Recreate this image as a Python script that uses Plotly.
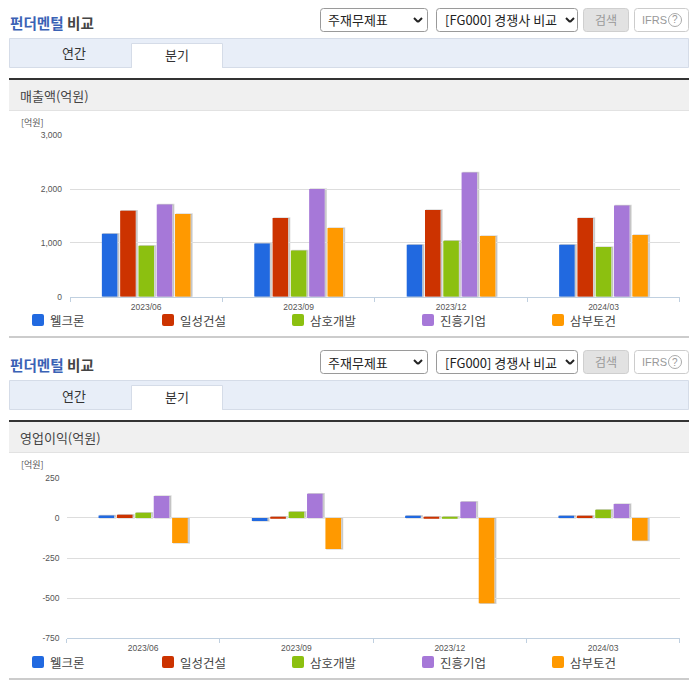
import plotly.graph_objects as go

W, H = 696, 684
periods = ["2023/06", "2023/09", "2023/12", "2024/03"]
companies = ["웰크론", "일성건설", "삼호개발", "진흥기업", "삼부토건"]
colors = ["#2169e0", "#cc3300", "#8cc010", "#a678d8", "#ff9900"]

welcron_sales = [1170, 990, 965, 965]
ilsung_sales = [1600, 1466, 1615, 1466]
samho_sales = [950, 860, 1040, 925]
jinheung_sales = [1715, 2006, 2310, 1696]
sambu_sales = [1540, 1280, 1130, 1150]

welcron_op = [15, -19, 14, 14]
ilsung_op = [20, 8, 8, 14]
samho_op = [33, 39, 8, 51]
jinheung_op = [136, 150, 100, 87]
sambu_op = [-156, -194, -531, -140]

sales = [welcron_sales, ilsung_sales, samho_sales, jinheung_sales, sambu_sales]
op = [welcron_op, ilsung_op, samho_op, jinheung_op, sambu_op]

sales_ticks = [0, 1000, 2000, 3000]
sales_labels = ["0", "1,000", "2,000", "3,000"]
op_ticks = [-750, -500, -250, 0, 250]
op_labels = ["-750", "-500", "-250", "0", "250"]

KR = "Noto Sans CJK KR"
LAT = "Liberation Sans"
SHADOW = "rgba(0,0,0,0.14)"

def px(x): return x / W
def py(y): return 1 - y / H

fig = go.Figure()
shapes, notes = [], []

def rect(x0, y0, x1, y1, fill=None, line=None, lw=1):
    shapes.append(dict(type="rect", xref="paper", yref="paper", x0=px(x0), x1=px(x1),
                       y0=py(y1), y1=py(y0), fillcolor=fill or "rgba(0,0,0,0)",
                       line=dict(color=line or "rgba(0,0,0,0)", width=lw if line else 0), layer="below"))

def rrect(x0, y0, x1, y1, r, fill=None, line=None, lw=1):
    X0, X1, Y0, Y1 = px(x0), px(x1), py(y0), py(y1)
    rx, ry = r / W, r / H
    path = (f"M{X0+rx},{Y0} L{X1-rx},{Y0} Q{X1},{Y0} {X1},{Y0-ry} L{X1},{Y1+ry} Q{X1},{Y1} {X1-rx},{Y1} "
            f"L{X0+rx},{Y1} Q{X0},{Y1} {X0},{Y1+ry} L{X0},{Y0-ry} Q{X0},{Y0} {X0+rx},{Y0} Z")
    shapes.append(dict(type="path", xref="paper", yref="paper", path=path,
                       fillcolor=fill or "rgba(0,0,0,0)",
                       line=dict(color=line or "rgba(0,0,0,0)", width=lw if line else 0), layer="below"))

def text(x, y, s, size=12, color="#444444", anchor="left", family=KR):
    notes.append(dict(xref="paper", yref="paper", x=px(x), y=py(y), text=s, showarrow=False,
                      xanchor=anchor, yanchor="middle", borderpad=0,
                      font=dict(size=size, color=color, family=family)))

def chevron(cx, cy):
    for dx0, dx1, dy0, dy1 in [(-4, 0, -2, 2), (0, 4, 2, -2)]:
        shapes.append(dict(type="line", xref="paper", yref="paper", x0=px(cx + dx0), x1=px(cx + dx1),
                           y0=py(cy + dy0), y1=py(cy + dy1), line=dict(color="#222222", width=2)))

def panel(off, title_metric, sep_y, legend_y, unit_y):
    text(9, 23 + off, "<b><span style='color:#3a62b5'>펀더멘털</span> 비교</b>", 14.6, "#444444")
    rrect(320.5, 8.5 + off, 427.5, 31.5 + off, 3, "#ffffff", "#9a9a9a")
    text(327, 20 + off, "주재무제표", 13, "#222222")
    chevron(418, 20 + off)
    rrect(436.5, 8.5 + off, 577.5, 31.5 + off, 3, "#ffffff", "#9a9a9a")
    text(444, 20 + off, "[FG000] 경쟁사 비교", 13, "#222222")
    chevron(570, 20 + off)
    rrect(583.5, 8.5 + off, 628.5, 31.5 + off, 3, "#e2e2e2", "#cfcfcf")
    text(606, 19 + off, "검색", 12, "#999999", "center")
    rrect(634.5, 8.5 + off, 688.5, 31.5 + off, 3, "#ffffff", "#cccccc")
    text(640.5, 19.5 + off, "IFRS", 11, "#999999", family=LAT)
    shapes.append(dict(type="circle", xref="paper", yref="paper", x0=px(668.5), x1=px(681.5),
                       y0=py(26.5 + off), y1=py(13.5 + off), line=dict(color="#aaaaaa", width=1)))
    text(675, 20 + off, "?", 10, "#999999", "center", LAT)
    rect(9.5, 38.5 + off, 688.5, 67.5 + off, "#e8eef8", "#d5dce8")
    rect(131.5, 43.5 + off, 222.5, 67.5 + off, "#ffffff", "#d5dce8")
    rect(132, 66.5 + off, 222, 68.5 + off, "#ffffff")
    text(74, 53 + off, "연간", 13, "#333333", "center")
    text(177, 54 + off, "분기", 13, "#333333", "center")
    rect(9, 80 + off, 689, 110 + off, "#f0f0f0")
    rect(9, 110 + off, 689, 111 + off, "#e2e2e2")
    rect(9, 78 + off, 689, 80 + off, "#333333")
    text(18.5, 95.5 + off, title_metric, 13, "#444444")
    text(19.5, unit_y, "[억원]", 9, "#555555")
    rect(9, sep_y, 689, sep_y + 2, "#cccccc")
    for i, name in enumerate(companies):
        x = 32 + 130 * i
        rrect(x, legend_y - 6, x + 12, legend_y + 6, 2, colors[i])
        text(x + 17, legend_y, name, 12.5, "#444444")

panel(0, "매출액(억원)", 336, 320, 122.5)
panel(342, "영업이익(억원)", 678, 662, 464.5)

def chart(n, series, x0, x1, ytop, ybot, yrange, ticks, labels, standoff, xstandoff):
    sx, sy = ("x", "y") if n == 0 else ("x3", "y3")
    mx, my = ("x2", "y2") if n == 0 else ("x4", "y4")
    for i, vals in enumerate(series):
        fig.add_bar(x=periods, y=vals, xaxis=sx, yaxis=sy, showlegend=False, hoverinfo="skip",
                    marker=dict(color=SHADOW, line=dict(color=SHADOW, width=1.5)))
    for i, vals in enumerate(series):
        fig.add_bar(x=periods, y=vals, xaxis=mx, yaxis=my, name=companies[i], showlegend=False,
                    marker=dict(color=colors[i], line=dict(width=0)))
    shift = 1.5
    sxk, syk, mxk, myk = "xaxis" + sx[1:], "yaxis" + sy[1:], "xaxis" + mx[1:], "yaxis" + my[1:]
    fig.update_layout({
        sxk: dict(domain=[px(x0 + shift), px(x1 + shift)], anchor=sy, visible=False, type="category",
                  categoryorder="array", categoryarray=periods, automargin=False),
        syk: dict(domain=[py(ybot), py(ytop)], anchor=sx, visible=False, range=yrange, automargin=False),
        mxk: dict(domain=[px(x0), px(x1)], anchor=my, type="category", categoryorder="array",
                  categoryarray=periods, tickson="boundaries", ticks="outside", ticklen=4,
                  tickcolor="#c0d0e0", tickwidth=1, showline=True, linecolor="#c0d0e0", linewidth=1,
                  showgrid=False, zeroline=False, automargin=False, ticklabelstandoff=xstandoff,
                  tickfont=dict(size=8.5, color="#555555", family=LAT)),
        myk: dict(domain=[py(ybot), py(ytop)], anchor=mx, range=yrange, tickmode="array", tickvals=ticks,
                  ticktext=labels, showgrid=True, gridcolor="#dddddd", gridwidth=1, zeroline=False,
                  showline=False, ticks="", ticklabelstandoff=standoff, automargin=False,
                  tickfont=dict(size=8.5, color="#555555", family=LAT)),
    })

chart(0, sales, 70, 679.7, 135.5, 296.7, [0, 3000], sales_ticks, sales_labels, 7, 2)
chart(1, op, 66.5, 679.7, 477.8, 638.3, [-750, 250], op_ticks, op_labels, 6, 1)

fig.update_layout(width=W, height=H, autosize=False, margin=dict(l=0, r=0, t=0, b=0, pad=0),
                  paper_bgcolor="#ffffff", plot_bgcolor="rgba(0,0,0,0)", barmode="group",
                  bargap=0.40, bargroupgap=0.15, shapes=shapes, annotations=notes,
                  font=dict(family=KR))

fig.write_html("out.html", config=dict(displayModeBar=False),
               post_script="document.body.style.margin='0';document.documentElement.style.overflow='hidden';")
